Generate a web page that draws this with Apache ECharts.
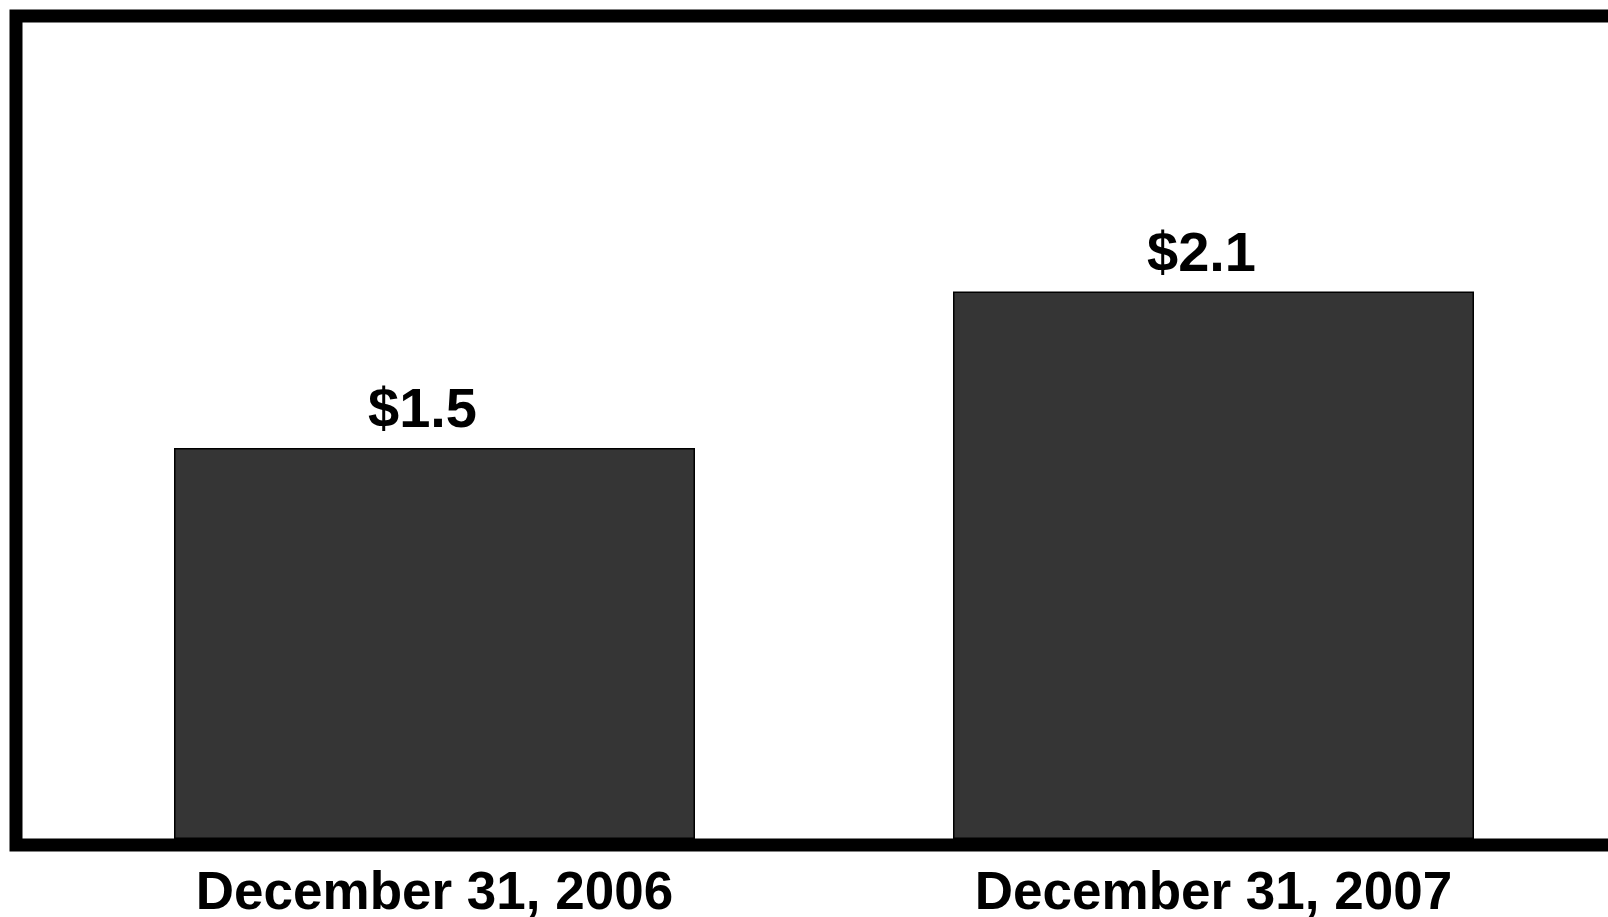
<!DOCTYPE html>
<html>
<head>
<meta charset="utf-8">
<script src="https://cdn.jsdelivr.net/npm/echarts@6/dist/echarts.min.js"></script>
<style>
  html, body { margin: 0; padding: 0; background: #fff; }
  #chart { width: 1608px; height: 917px; }
</style>
</head>
<body>
<div id="chart"></div>
<script>
const categories = ["December 31, 2006", "December 31, 2007"];
const values = [1.5, 2.1];

const chartDom = document.getElementById("chart");
const myChart = echarts.init(chartDom);

const option = {
  animation: false,
  backgroundColor: "#fff",
  textStyle: { fontFamily: "Liberation Sans, Arial, sans-serif" },
  grid: { left: 45, right: 5, top: 57, bottom: 78, outerBoundsMode: "none" },
  xAxis: {
    type: "category",
    data: categories,
    axisLine: { show: false },
    axisTick: { show: false },
    axisLabel: {
      margin: 29,
      fontSize: 53,
      fontWeight: "bold",
      color: "#000",
      fontFamily: "Liberation Sans"
    }
  },
  yAxis: {
    type: "value",
    min: 0,
    max: 3,
    show: false,
    splitLine: { show: false }
  },
  graphic: [
    {
      // outer frame, open past the right edge
      type: "rect",
      z: 10,
      shape: { x: 16, y: 16, width: 1700, height: 829 },
      style: { fill: "none", stroke: "#000", lineWidth: 13 }
    }
  ],
  series: [
    {
      type: "bar",
      data: values,
      barWidth: 521,
      itemStyle: { color: "#353535", borderColor: "#000", borderWidth: 1.5 },
      label: {
        show: true,
        position: "top",
        distance: 8,
        offset: [-12, 0],
        fontSize: 56,
        fontWeight: "bold",
        color: "#000",
        fontFamily: "Liberation Sans",
        formatter: (p) => "$" + p.value.toFixed(1)
      }
    }
  ]
};

myChart.setOption(option);
</script>
</body>
</html>
